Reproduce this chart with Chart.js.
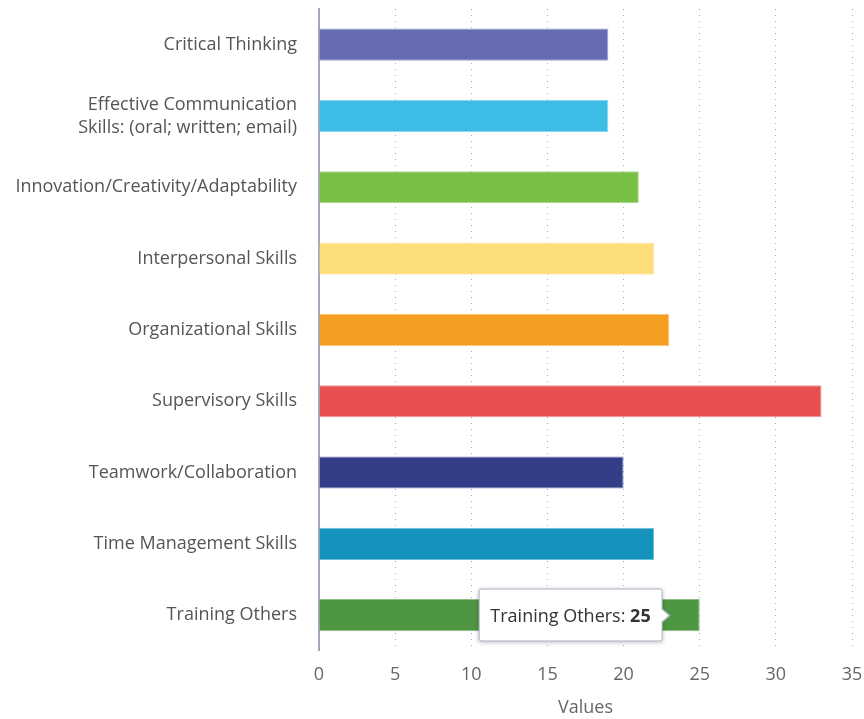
<!DOCTYPE html>
<html>
<head>
<meta charset="utf-8">
<script src="https://cdn.jsdelivr.net/npm/chart.js@4"></script>
<style>
  html, body { margin: 0; padding: 0; background: #fff; }
  #wrap { position: relative; width: 864px; height: 719px; }
  #tip {
    position: absolute; pointer-events: none; opacity: 0;
    transform: translate(-100%, -50%);
    background: #fff; border: 1px solid #a9b0c6; border-radius: 3px;
    box-shadow: 0 1px 4px rgba(0,0,0,0.2);
    font-family: "Open Sans", sans-serif; font-size: 18px; color: #333;
    padding: 14px 11px; white-space: nowrap; line-height: 23px;
  }
  #tip b { font-weight: 700; }
  #tip .caret {
    position: absolute; right: -9px; top: 50%; margin-top: -8px;
    width: 0; height: 0; border-top: 8px solid transparent;
    border-bottom: 8px solid transparent; border-left: 9px solid #a9b0c6;
  }
  #tip .caret:after {
    content: ""; position: absolute; left: -10px; top: -7px;
    border-top: 7px solid transparent; border-bottom: 7px solid transparent;
    border-left: 8px solid #fff;
  }
</style>
</head>
<body>
<div id="wrap">
  <canvas id="myChart" width="864" height="719"></canvas>
  <div id="tip"></div>
</div>
<script>
// categories shown on the y axis
const categories = [
  "Critical Thinking",
  ["Effective Communication", "Skills: (oral; written; email)"],
  "Innovation/Creativity/Adaptability",
  "Interpersonal Skills",
  "Organizational Skills",
  "Supervisory Skills",
  "Teamwork/Collaboration",
  "Time Management Skills",
  "Training Others"
];
// bar values
const values = [19, 19, 21, 22, 23, 33, 20, 22, 25];
// one colour per bar
const barColors = ["#656cb2", "#3dbce5", "#78bf45", "#fedd7b", "#f59f22", "#e84f4f", "#343d87", "#1593bd", "#4e9641"];
const barBorders = ["#9a9fd0", "#8ad6ef", "#a9d98a", "#fee8a8", "#f9c77c", "#f29393", "#7d83b6", "#6cc0dc", "#8cbf83"];
// x axis range and step
const xMin = 0, xMax = 35, xStep = 5;

// draw the tooltip as html next to the bar
function externalTooltip(context) {
  const tooltip = context.tooltip;
  const el = document.getElementById('tip');
  if (tooltip.opacity === 0 || !tooltip.dataPoints) {
    el.style.opacity = 0;
    return;
  }
  const dp = tooltip.dataPoints[0];
  let name = categories[dp.dataIndex];
  if (Array.isArray(name)) name = name.join(' ');
  el.innerHTML = name + ': <b>' + dp.formattedValue + '</b><span class="caret"></span>';
  el.style.left = (tooltip.caretX - 37) + 'px';
  el.style.top = tooltip.caretY + 'px';
  el.style.opacity = 1;
}

const ctx = document.getElementById('myChart').getContext('2d');
const myChart = new Chart(ctx, {
  type: 'bar',
  data: {
    labels: categories,
    datasets: [{
      data: values,
      backgroundColor: barColors,
      borderColor: barBorders,
      borderWidth: 1,
      barPercentage: 0.45,
      categoryPercentage: 1
    }]
  },
  options: {
    indexAxis: 'y',
    responsive: false,
    animation: false,
    layout: { padding: { top: 9, right: 12, left: 0, bottom: 0 } },
    plugins: {
      legend: { display: false },
      tooltip: { enabled: false, external: externalTooltip }
    },
    scales: {
      x: {
        min: xMin,
        max: xMax,
        ticks: {
          stepSize: xStep,
          color: '#666',
          padding: 13,
          font: { family: 'Open Sans', size: 18 }
        },
        grid: {
          color: function (c) { return c.tick && c.tick.value === 0 ? 'rgba(0,0,0,0)' : '#a4a9c6'; },
          drawTicks: false
        },
        border: { display: false, dash: [1, 5] },
        title: {
          display: true,
          text: 'Values',
          color: '#666',
          padding: { top: -1, bottom: 0 },
          font: { family: 'Open Sans', size: 18 }
        },
        // let the last tick label run to the edge
        afterFit: function (scale) { scale.paddingRight = 0; scale.paddingLeft = 0; }
      },
      y: {
        grid: { display: false, drawTicks: false },
        border: { display: true, color: '#a3a8bc', width: 2 },
        ticks: {
          color: '#555',
          padding: 22,
          font: { family: 'Open Sans', size: 18, lineHeight: 1.28 }
        },
        afterFit: function (scale) {
          scale.width = 319;
          scale.paddingTop = 0;
          scale.paddingBottom = 0;
        }
      }
    }
  }
});

// show the tooltip on the last bar like in the reference
myChart.tooltip.setActiveElements([{ datasetIndex: 0, index: 8 }], { x: 700, y: 613 });
myChart.update();
</script>
</body>
</html>
